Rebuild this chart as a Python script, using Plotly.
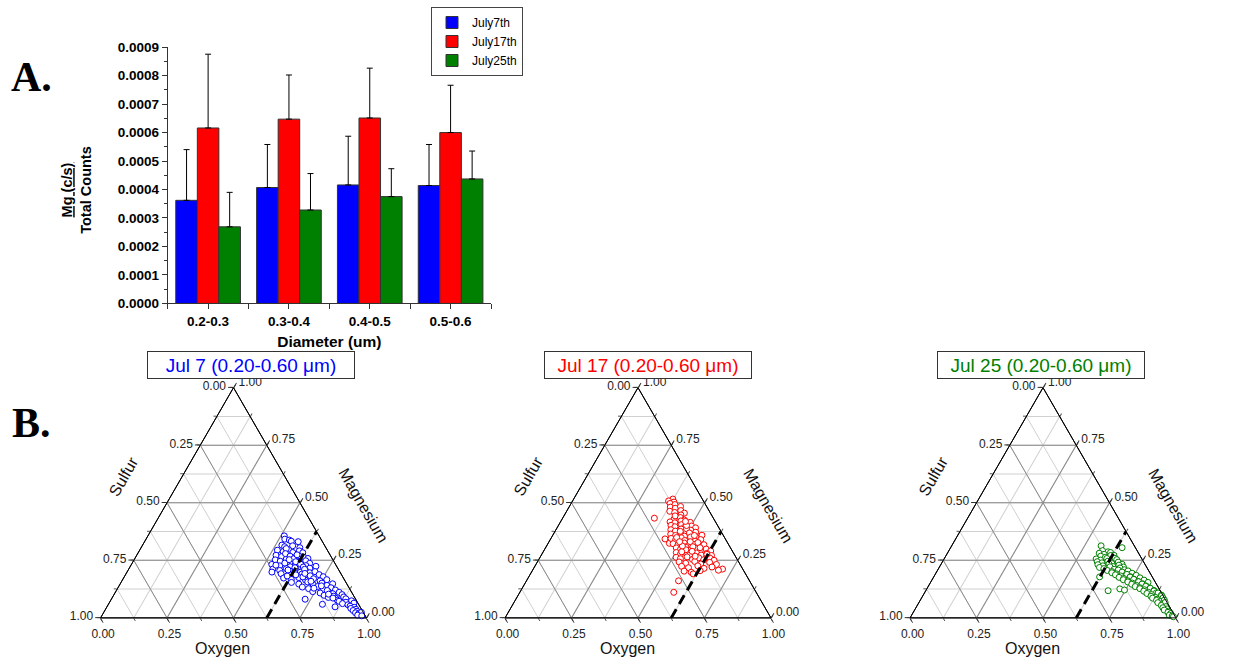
import plotly.graph_objects as go

# ---------------- Panel A: normalised Mg signal by particle size ----------------
diameter_bins = ["0.2-0.3", "0.3-0.4", "0.4-0.5", "0.5-0.6"]
series_names = ["July7th", "July17th", "July25th"]
jul7_mean = [0.000362, 0.000407, 0.000416, 0.000414]
jul7_err = [0.000178, 0.000151, 0.000171, 0.000144]
jul17_mean = [0.000616, 0.000647, 0.000651, 0.000600]
jul17_err = [0.000259, 0.000155, 0.000175, 0.000166]
jul25_mean = [0.000269, 0.000328, 0.000375, 0.000437]
jul25_err = [0.000121, 0.000128, 0.000098, 0.000098]
bar_colors = ["#0000ff", "#ff0000", "#008000"]

# ---------------- Panel B: single-particle (Mg, O) fractions; S = 1 - Mg - O ----------------
jul7_mg_o = [
    (.356, .513), (.342, .522), (.338, .541), (.333, .551), (.331, .578),
    (.316, .524), (.309, .538), (.313, .566), (.305, .597),
    (.294, .518), (.288, .543), (.296, .559), (.284, .581), (.291, .602), (.283, .619),
    (.272, .524), (.266, .548), (.275, .567), (.262, .589), (.270, .611), (.264, .632), (.258, .651),
    (.252, .531), (.246, .553), (.255, .571), (.243, .592), (.250, .609), (.241, .628), (.248, .648), (.237, .668),
    (.232, .528), (.226, .561), (.235, .583), (.222, .602), (.229, .619), (.219, .641), (.227, .659), (.216, .679), (.224, .698),
    (.212, .542), (.206, .571), (.214, .592), (.203, .612), (.209, .631), (.198, .652), (.206, .668), (.196, .689), (.201, .706),
    (.199, .545),
    (.192, .583), (.186, .621), (.190, .662), (.183, .697), (.188, .728), (.179, .748),
    (.173, .602), (.167, .634), (.175, .658), (.164, .689), (.170, .716), (.161, .745), (.166, .768),
    (.154, .641), (.147, .672), (.156, .701), (.144, .728), (.151, .757), (.141, .781), (.148, .799),
    (.134, .692), (.127, .719), (.136, .748), (.124, .776), (.131, .801), (.121, .823),
    (.114, .741), (.108, .772), (.116, .797), (.105, .821), (.111, .842),
    (.098, .792), (.094, .829), (.101, .858),
    (.089, .812), (.085, .842), (.091, .869),
    (.081, .729), (.077, .852), (.083, .881),
    (.072, .861), (.068, .889), (.074, .907),
    (.059, .805), (.062, .879), (.057, .902), (.064, .921),
    (.048, .858), (.051, .913), (.046, .931),
    (.041, .921), (.037, .942), (.032, .934), (.028, .951),
    (.022, .948), (.018, .962), (.024, .969), (.012, .961), (.009, .978),
    (.301, .548), (.279, .556), (.268, .579), (.257, .598), (.244, .612), (.233, .636),
    (.221, .652), (.211, .662), (.199, .631), (.187, .641), (.178, .672), (.182, .611),
    (.238, .574), (.218, .622), (.253, .583), (.274, .602), (.229, .545), (.208, .601),
    (.193, .672), (.159, .712), (.139, .761), (.119, .793), (.129, .738), (.103, .806), (.086, .831),
]

jul17_mg_o = [
    (.516, .373), (.508, .361), (.503, .384), (.497, .372), (.492, .393),
    (.481, .381), (.476, .402), (.484, .418),
    (.463, .388), (.458, .409), (.466, .428), (.455, .447), (.447, .438),
    (.433, .345), (.428, .421), (.436, .441), (.425, .462),
    (.417, .412), (.413, .432), (.421, .451), (.408, .472), (.415, .489),
    (.402, .423), (.396, .441), (.405, .461), (.393, .478), (.399, .502), (.391, .521),
    (.383, .432), (.377, .452), (.386, .469), (.374, .489), (.381, .508), (.372, .531),
    (.364, .441), (.358, .462), (.367, .478), (.355, .497), (.362, .518), (.353, .541), (.359, .561),
    (.343, .430), (.324, .456),
    (.345, .452), (.339, .472), (.348, .489), (.336, .508), (.342, .527), (.333, .548), (.340, .566),
    (.322, .471), (.316, .492), (.325, .512), (.313, .531), (.319, .551), (.311, .571), (.318, .589),
    (.304, .492), (.298, .511), (.306, .528), (.295, .549), (.301, .568), (.292, .588), (.299, .607), (.291, .628),
    (.284, .502), (.278, .521), (.286, .541), (.275, .559), (.282, .579), (.273, .601), (.280, .619), (.271, .641),
    (.263, .512), (.257, .531), (.265, .552), (.254, .578), (.261, .598), (.252, .621), (.259, .642), (.250, .661),
    (.243, .533), (.237, .561), (.245, .591), (.234, .619), (.241, .649), (.232, .679),
    (.224, .552), (.218, .581), (.226, .612), (.215, .641), (.221, .668),
    (.212, .712), (.207, .699),
    (.203, .572), (.198, .601), (.205, .631), (.191, .612),
    (.161, .572), (.111, .579),
    (.387, .489), (.369, .509), (.351, .522), (.331, .531), (.327, .562), (.309, .552),
    (.289, .559), (.296, .532), (.349, .471), (.376, .471), (.312, .511), (.268, .581),
    (.287, .521), (.331, .491), (.358, .533), (.401, .482), (.419, .469), (.443, .418),
    (.305, .581), (.276, .621),
]

jul25_mg_o = [
    (.313, .562), (.305, .645), (.292, .578), (.287, .601),
    (.281, .571), (.276, .592), (.284, .612), (.272, .631),
    (.268, .583), (.263, .603), (.271, .619), (.259, .641),
    (.256, .572), (.251, .591), (.258, .611), (.247, .629), (.253, .651),
    (.244, .582), (.239, .602), (.246, .621), (.236, .641), (.242, .662), (.233, .681),
    (.231, .591), (.226, .612), (.234, .631), (.223, .652), (.229, .671), (.221, .692),
    (.219, .603), (.214, .622), (.222, .641), (.211, .662), (.217, .681), (.209, .702),
    (.206, .639), (.201, .659), (.208, .679), (.198, .699), (.204, .718),
    (.196, .661), (.191, .681), (.199, .698), (.188, .719), (.194, .738),
    (.187, .679), (.182, .701), (.189, .721), (.179, .739), (.185, .758),
    (.178, .624),
    (.176, .698), (.171, .718), (.177, .739), (.168, .758), (.174, .778),
    (.166, .719), (.161, .739), (.167, .758), (.158, .779), (.164, .798),
    (.156, .741), (.151, .761), (.157, .781), (.148, .801), (.154, .818),
    (.146, .761), (.141, .781), (.147, .799), (.139, .818),
    (.136, .779), (.131, .799), (.137, .818), (.128, .838),
    (.126, .726), (.121, .746),
    (.127, .801), (.122, .821), (.129, .839), (.119, .858),
    (.118, .686),
    (.116, .821), (.111, .841), (.117, .859), (.109, .872),
    (.106, .838), (.101, .858), (.108, .879), (.099, .896),
    (.094, .859), (.089, .879), (.096, .898),
    (.086, .869), (.081, .889), (.087, .908),
    (.076, .889), (.071, .908), (.077, .918),
    (.066, .899), (.061, .919), (.067, .926),
    (.054, .918), (.049, .938), (.044, .929), (.039, .948),
    (.034, .939), (.029, .958), (.024, .958), (.019, .971),
    (.012, .969), (.008, .982), (.005, .988),
]

panel_titles = ["Jul 7 (0.20-0.60 μm)", "Jul 17 (0.20-0.60 μm)", "Jul 25 (0.20-0.60 μm)"]
panel_colors = ["#0000ff", "#ff0000", "#008000"]
panel_data = [jul7_mg_o, jul17_mg_o, jul25_mg_o]

# boundary line of constant oxygen fraction drawn in each triangle
oxygen_cut = 0.625
cut_mg = [0.0, 0.375]

major_vals = [0.0, 0.25, 0.5, 0.75, 1.0]
major_text = ["%.2f" % (1 - v) for v in major_vals]
minor_vals = [i / 8 for i in range(9)]

W, H = 1233, 664


def px(x):
    return x / W


def py(y):
    return 1 - y / H


fig = go.Figure()

# ---- bars ----
for name, mean, err, col in zip(series_names,
                                [jul7_mean, jul17_mean, jul25_mean],
                                [jul7_err, jul17_err, jul25_err],
                                bar_colors):
    fig.add_trace(go.Bar(
        x=list(range(len(diameter_bins))), y=mean, name=name,
        marker=dict(color=col, line=dict(color="#333333", width=1)),
        error_y=dict(type="data", symmetric=False, array=err,
                     arrayminus=[0] * len(err), color="black",
                     thickness=1, width=3),
    ))

# ---- ternary panels: light minor-grid layer underneath, labelled layer on top ----
tern_cx = [233.5, 638.0, 1043.0]
tri_w = 272.0
tri_h = tri_w * 3 ** 0.5 / 2
base_y = 625.0

lower_axis = dict(tickmode="array", tickvals=minor_vals, showticklabels=False,
                  ticks="outside", ticklen=3, tickcolor="#555555",
                  showgrid=True, gridcolor="#d0d0d0", gridwidth=1,
                  linecolor="black", linewidth=1, title=dict(text=""), min=0)
upper_axis = dict(tickmode="array", tickvals=major_vals, ticktext=major_text,
                  ticks="outside", ticklen=5, tickcolor="#333333",
                  showgrid=True, gridcolor="#8a8a8a", gridwidth=1,
                  linecolor="black", linewidth=1, title=dict(text=""), min=0,
                  tickfont=dict(family="Arial, Liberation Sans", size=12, color="#222222"))

layout_tern = {}
for i, cx in enumerate(tern_cx):
    dom = dict(x=[px(cx - tri_w / 2), px(cx + tri_w / 2)],
               y=[py(base_y), py(base_y - tri_h)])
    low_id = "ternary" if i == 0 else "ternary%d" % (i + 1)
    up_id = "ternary%d" % (i + 4)
    layout_tern[low_id] = dict(domain=dom, sum=1, bgcolor="white",
                               aaxis=lower_axis, baxis=lower_axis, caxis=lower_axis)
    layout_tern[up_id] = dict(domain=dom, sum=1, bgcolor="rgba(0,0,0,0)",
                              aaxis=upper_axis, baxis=upper_axis, caxis=upper_axis)
    fig.add_trace(go.Scatterternary(a=[], c=[], subplot=low_id, mode="markers",
                                    showlegend=False, hoverinfo="skip"))

for i, (pairs, col) in enumerate(zip(panel_data, panel_colors)):
    up_id = "ternary%d" % (i + 4)
    mg = [p[0] for p in pairs]
    ox = [p[1] for p in pairs]
    fig.add_trace(go.Scatterternary(
        a=mg, c=ox, sum=1, subplot=up_id, mode="markers", showlegend=False,
        cliponaxis=False,
        marker=dict(symbol="circle", size=6, color="white",
                    line=dict(color=col, width=1)),
    ))
    fig.add_trace(go.Scatterternary(
        a=cut_mg, c=[oxygen_cut] * len(cut_mg), sum=1, subplot=up_id,
        mode="lines", showlegend=False, cliponaxis=False,
        line=dict(color="black", width=3, dash="10px,6px"),
    ))


def note(x, y, text, font, **kw):
    d = dict(x=px(x), y=py(y), xref="paper", yref="paper", showarrow=False,
             text=text, font=font, xanchor="center", yanchor="middle")
    d.update(kw)
    return d


annotations = []
label_font = dict(family="Arial, Liberation Sans", size=16, color="#111111")
title_x = [251.0, 647.5, 1040.5]
for i, cx in enumerate(tern_cx):
    annotations.append(note(title_x[i], 366, panel_titles[i],
                            dict(family="Arial, Liberation Sans", size=19, color=panel_colors[i]),
                            bordercolor="#333333", borderwidth=1, borderpad=2,
                            bgcolor="white", width=202, height=22))
    annotations.append(note(cx - 110, 480, "Sulfur", label_font, textangle=-60))
    annotations.append(note(cx + 130, 510, "Magnesium", label_font, textangle=60))
    annotations.append(note(cx - 11, 656, "Oxygen", label_font))

panel_font = dict(family="Times New Roman, Liberation Serif", size=42, color="black")
annotations.append(note(31, 72, "<b>A.</b>", panel_font))
annotations.append(note(31, 426, "<b>B.</b>", panel_font))
annotations.append(note(77, 187, "<b><u>Mg (c/s)</u><br>Total Counts</b>",
                        dict(family="Arial, Liberation Sans", size=14.5, color="black"),
                        textangle=-90))

bold_tick = dict(family="Arial, Liberation Sans", size=13.5, color="black", weight="bold")

fig.update_layout(
    width=W, height=H, margin=dict(l=0, r=0, t=0, b=0),
    paper_bgcolor="white", plot_bgcolor="white",
    barmode="group", bargap=0.2, bargroupgap=0,
    xaxis=dict(domain=[px(167.7), px(491)], range=[-0.5, 3.5],
               tickmode="array", tickvals=list(range(len(diameter_bins))), ticktext=diameter_bins,
               ticks="outside", ticklen=5, tickcolor="#333333", showline=True,
               linecolor="#333333", linewidth=1, showgrid=False, zeroline=False,
               tickfont=bold_tick,
               minor=dict(tickmode="array", tickvals=[-0.5, 0.5, 1.5, 2.5, 3.5],
                          ticks="outside", ticklen=5, tickcolor="#333333"),
               title=dict(text="<b>Diameter (um)</b>", standoff=8,
                          font=dict(family="Arial, Liberation Sans", size=15.5, color="black"))),
    yaxis=dict(domain=[py(303.3), py(41)], range=[0, 0.0009], dtick=0.0001,
               tickformat=".4f", ticks="outside", ticklen=5, tickcolor="#333333",
               showline=True, linecolor="#333333", linewidth=1, showgrid=False,
               zeroline=False, tickfont=bold_tick,
               minor=dict(dtick=0.00005, ticks="outside", ticklen=3, tickcolor="#333333")),
    legend=dict(x=px(431), y=1.0, xanchor="left", yanchor="top",
                bordercolor="#444444", borderwidth=1, bgcolor="white",
                font=dict(family="Arial, Liberation Sans", size=12, color="black"),
                tracegroupgap=0, itemwidth=30),
    annotations=annotations,
    **layout_tern,
)

fig.write_html("out.html")
